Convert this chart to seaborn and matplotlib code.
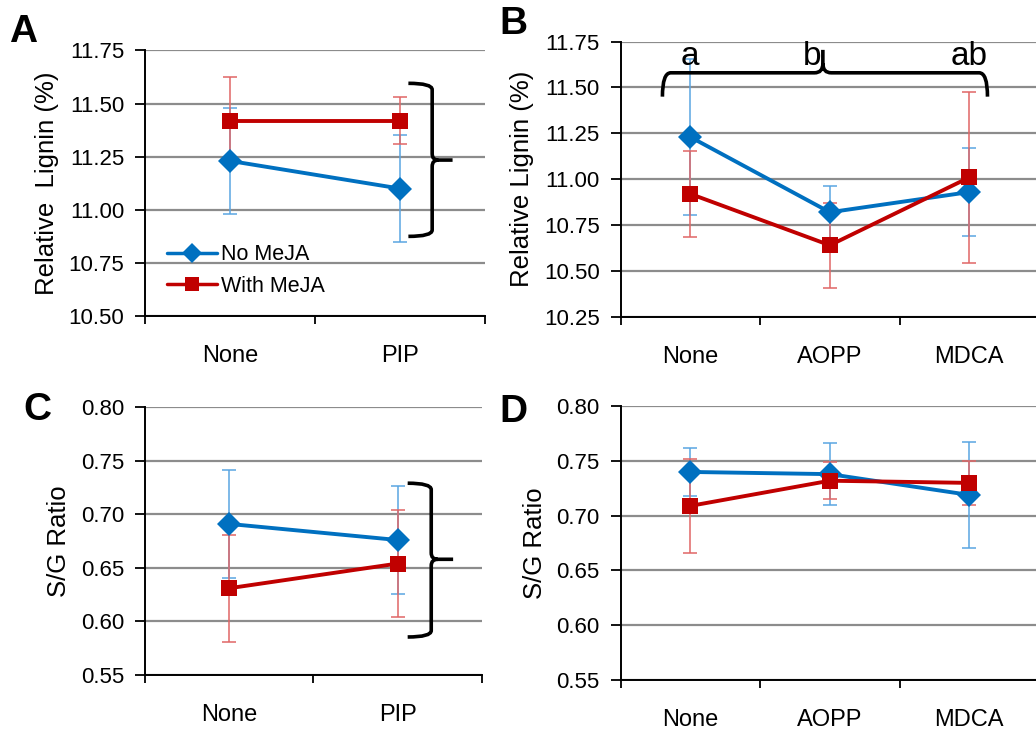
import matplotlib
matplotlib.use('Agg')
import matplotlib.pyplot as plt
from matplotlib.path import Path
from matplotlib.patches import PathPatch
from matplotlib.ticker import FormatStrFormatter
import numpy as np
import pandas as pd
import seaborn as sns

# Data
cats_pip = ['None', 'PIP']
cats_inh = ['None', 'AOPP', 'MDCA']
groups = ['No MeJA', 'With MeJA']

lig_pip_no = [11.23, 11.10]
lig_pip_no_err = [0.25, 0.25]
lig_pip_with = [11.42, 11.42]
lig_pip_with_err = [0.205, 0.11]

lig_inh_no = [11.23, 10.82, 10.93]
lig_inh_no_err = [0.425, 0.145, 0.24]
lig_inh_with = [10.92, 10.64, 11.01]
lig_inh_with_err = [0.233, 0.233, 0.465]

sg_pip_no = [0.691, 0.676]
sg_pip_no_err = [0.05, 0.05]
sg_pip_with = [0.631, 0.654]
sg_pip_with_err = [0.05, 0.05]

sg_inh_no = [0.740, 0.738, 0.719]
sg_inh_no_err = [0.022, 0.028, 0.048]
sg_inh_with = [0.709, 0.732, 0.730]
sg_inh_with_err = [0.043, 0.017, 0.020]

letters_b = ['a', 'b', 'ab']

sns.set_style('white')
plt.rcParams['font.family'] = ['Liberation Sans', 'DejaVu Sans']
for k in ['text.color', 'axes.labelcolor', 'xtick.color', 'ytick.color']:
    plt.rcParams[k] = 'black'
plt.rcParams['xtick.bottom'] = True
plt.rcParams['ytick.left'] = True

line_cols = {'No MeJA': '#0070C0', 'With MeJA': '#C00000'}
err_cols = {'No MeJA': '#5AA5E2', 'With MeJA': '#E06666'}
marks = {'No MeJA': 'D', 'With MeJA': 's'}

fig = plt.figure(figsize=(10.36, 7.30), dpi=100)


def panel(rect, cats, no, no_err, wi, wi_err, ylim, step, ylabel, letter, lpos, legend=False):
    ax = fig.add_axes(rect)
    pos = np.arange(len(cats))
    df = pd.DataFrame({
        'pos': np.concatenate([pos, pos]),
        'val': no + wi,
        'grp': [groups[0]] * len(cats) + [groups[1]] * len(cats),
    })
    for g, vals, errs in [(groups[0], no, no_err), (groups[1], wi, wi_err)]:
        ax.errorbar(pos, vals, yerr=errs, fmt='none', ecolor=err_cols[g],
                    elinewidth=1.1, capsize=5, capthick=1.1, zorder=1)
    sns.lineplot(data=df, x='pos', y='val', hue='grp', style='grp',
                 markers=marks, dashes=False, palette=line_cols,
                 hue_order=groups, style_order=groups,
                 lw=2.8, markersize=12, markeredgewidth=0,
                 legend=legend, ax=ax, zorder=3)
    ax.set_xlim(-0.5, len(cats) - 0.5)
    ax.set_ylim(*ylim)
    ax.set_yticks(np.arange(ylim[0], ylim[1] + step / 2, step))
    ax.yaxis.set_major_formatter(FormatStrFormatter('%.2f'))
    ax.set_xticks(pos)
    ax.set_xticklabels(cats, fontsize=17)
    ax.set_xticks(np.arange(len(cats) + 1) - 0.5, minor=True)
    ax.tick_params(axis='x', which='major', length=0, pad=21)
    ax.tick_params(axis='x', which='minor', length=6, width=1.3, direction='out')
    ax.tick_params(axis='y', length=7, width=1.3, direction='out', pad=8, labelsize=16)
    ax.yaxis.grid(True, color='#8c8c8c', lw=1.6)
    ax.set_axisbelow(True)
    for s in ['top', 'right']:
        ax.spines[s].set_visible(False)
    for s in ['left', 'bottom']:
        ax.spines[s].set_color('black')
        ax.spines[s].set_linewidth(1.4)
    ax.set_xlabel('')
    ax.set_ylabel(ylabel, fontsize=18.5, labelpad=7)
    ax.text(lpos[0], lpos[1], letter, transform=ax.transAxes, fontsize=28,
            fontweight='bold', ha='left', va='center')
    if legend:
        h, l = ax.get_legend_handles_labels()
        leg = ax.legend(h, l, loc='lower left', bbox_to_anchor=(0.04, 0.04),
                        frameon=False, fontsize=15.5, handlelength=2.3,
                        handletextpad=0.2, labelspacing=0.5, borderaxespad=0)
        for ln in leg.get_lines():
            ln.set_linewidth(2.5)
            ln.set_markersize(10)
            ln.set_markeredgewidth(0)
    return ax


def vbrace(ax, x0, x1, x2, y0, y1, ym, r):
    verts = [(x0, y1), (x1, y1), (x1, y1 - r), (x1, ym + r), (x1, ym), (x1 + (x2 - x1) * 0.3, ym),
             (x2, ym),
             (x1 + (x2 - x1) * 0.3, ym), (x1, ym), (x1, ym - r), (x1, y0 + r), (x1, y0), (x0, y0)]
    codes = [Path.MOVETO, Path.CURVE3, Path.CURVE3, Path.LINETO, Path.CURVE3, Path.CURVE3,
             Path.LINETO,
             Path.MOVETO, Path.CURVE3, Path.CURVE3, Path.LINETO, Path.CURVE3, Path.CURVE3]
    ax.add_patch(PathPatch(Path(verts, codes), fill=False, lw=2.6, color='black',
                           clip_on=False, zorder=5))


def hbrace(ax, x0, x1, xm, y0, y1, ytip, r):
    verts = [(x0, y0), (x0, y1), (x0 + r, y1), (xm - r, y1), (xm, y1), (xm, y1 + (ytip - y1) * 0.4),
             (xm, ytip),
             (xm, y1 + (ytip - y1) * 0.4), (xm, y1), (xm + r, y1), (x1 - r, y1), (x1, y1), (x1, y0)]
    codes = [Path.MOVETO, Path.CURVE3, Path.CURVE3, Path.LINETO, Path.CURVE3, Path.CURVE3,
             Path.LINETO,
             Path.MOVETO, Path.CURVE3, Path.CURVE3, Path.LINETO, Path.CURVE3, Path.CURVE3]
    ax.add_patch(PathPatch(Path(verts, codes), fill=False, lw=2.6, color='black',
                           clip_on=False, zorder=5))


axA = panel([0.140, 0.567, 0.328, 0.364], cats_pip, lig_pip_no, lig_pip_no_err,
            lig_pip_with, lig_pip_with_err, (10.5, 11.75), 0.25,
            'Relative  Lignin (%)', 'A', (-0.40, 1.071), legend=True)
vbrace(axA, 1.05, 1.19, 1.31, 10.875, 11.595, 11.234, 0.03)

axB = panel([0.599, 0.566, 0.404, 0.377], cats_inh, lig_inh_no, lig_inh_no_err,
            lig_inh_with, lig_inh_with_err, (10.25, 11.75), 0.25,
            'Relative Lignin (%)', 'B', (-0.29, 1.064))
hbrace(axB, -0.2, 2.13, 0.95, 11.45, 11.58, 11.705, 0.06)
for i, t in enumerate(letters_b):
    xx = i if i != 1 else 0.87
    axB.text(xx, 11.625, t, fontsize=24, ha='center', va='baseline')

axC = panel([0.140, 0.0753, 0.325, 0.367], cats_pip, sg_pip_no, sg_pip_no_err,
            sg_pip_with, sg_pip_with_err, (0.55, 0.80), 0.05,
            'S/G Ratio', 'C', (-0.36, 0.99))
vbrace(axC, 1.06, 1.2, 1.33, 0.5855, 0.729, 0.658, 0.006)

axD = panel([0.599, 0.0685, 0.404, 0.375], cats_inh, sg_inh_no, sg_inh_no_err,
            sg_inh_with, sg_inh_with_err, (0.55, 0.80), 0.05,
            'S/G Ratio', 'D', (-0.29, 0.98))

fig.savefig('out.png', dpi=100)
